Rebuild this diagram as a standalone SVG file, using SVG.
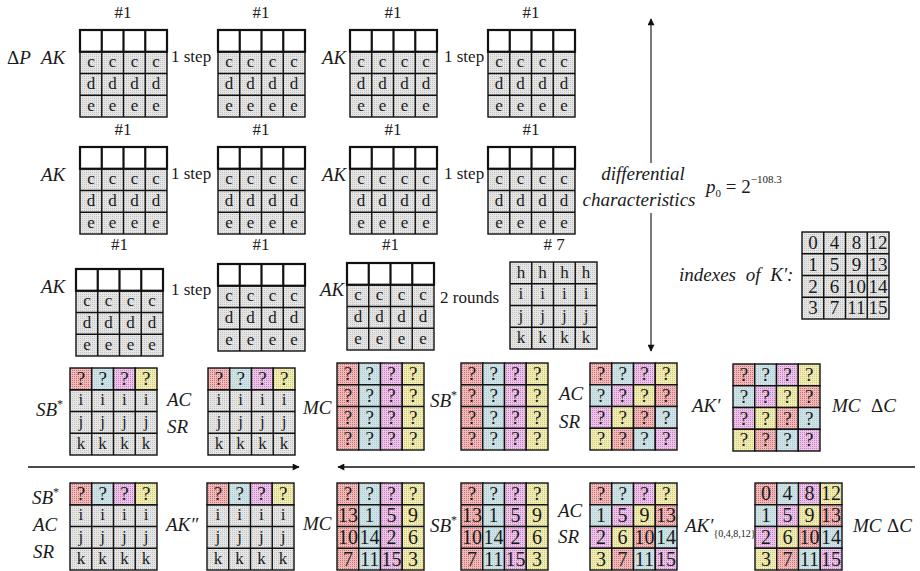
<svg xmlns="http://www.w3.org/2000/svg" width="920" height="571" viewBox="0 0 920 571">
<defs>
<pattern id="pg" width="2" height="2" patternUnits="userSpaceOnUse"><rect width="2" height="2" fill="#e6e6e6"/><rect width="1" height="1" fill="#c2c2c2"/></pattern>
<pattern id="pr" width="2" height="2" patternUnits="userSpaceOnUse"><rect width="2" height="2" fill="#edbdbd"/><rect width="1" height="1" fill="#d26e6e"/></pattern>
<pattern id="pb" width="2" height="2" patternUnits="userSpaceOnUse"><rect width="2" height="2" fill="#d0e4e7"/><rect width="1" height="1" fill="#afcdd2"/></pattern>
<pattern id="pp" width="2" height="2" patternUnits="userSpaceOnUse"><rect width="2" height="2" fill="#ebc6e8"/><rect width="1" height="1" fill="#c880c2"/></pattern>
<pattern id="py" width="2" height="2" patternUnits="userSpaceOnUse"><rect width="2" height="2" fill="#f0edbd"/><rect width="1" height="1" fill="#d6cc6a"/></pattern>
<marker id="ah" viewBox="0 0 10 10" refX="9" refY="5" markerWidth="8" markerHeight="7" markerUnits="userSpaceOnUse" orient="auto-start-reverse"><path d="M0 0L10 5L0 10z" fill="#111"/></marker>
</defs>
<style>
.g{fill:url(#pg);stroke:#111;stroke-width:1.4}
.r{fill:url(#pr);stroke:#111;stroke-width:1.4}
.b{fill:url(#pb);stroke:#111;stroke-width:1.4}
.p{fill:url(#pp);stroke:#111;stroke-width:1.4}
.y{fill:url(#py);stroke:#111;stroke-width:1.4}
.gl{fill:none;stroke:#111;stroke-width:1.4}
.wt{fill:#fff;stroke:#111;stroke-width:2.2}
.wl{fill:none;stroke:#111;stroke-width:2.2}
.t{font-family:"Liberation Serif",serif;font-size:17px;text-anchor:middle;fill:#1a1a1a}
.q{font-size:19px}
.n{font-size:20px}
.l{font-family:"Liberation Serif",serif;font-size:19px;font-style:italic;fill:#1a1a1a}
.u{font-family:"Liberation Serif",serif;font-size:17px;fill:#1a1a1a}
.h{font-family:"Liberation Serif",serif;font-size:17px;text-anchor:middle;fill:#1a1a1a}
.ar{fill:none;stroke:#111;stroke-width:1.5}
.va{fill:none;stroke:#444;stroke-width:1.4}
.up{font-style:normal}
</style>

<g id="connectors">
<path class="va" d="M651 19V163" marker-start="url(#ah)"/>
<path class="va" d="M651 213V351" marker-end="url(#ah)"/>
<path class="ar" d="M28 467H299" marker-end="url(#ah)"/>
<path class="ar" d="M915 467H338" marker-end="url(#ah)"/>
</g>

<g id="labels">
<text class="l" x="7" y="64"><tspan class="up">Δ</tspan>P</text>
<text class="l" x="41" y="64">AK</text>
<text class="u" x="171" y="62">1 step</text>
<text class="l" x="322" y="64">AK</text>
<text class="u" x="444" y="62">1 step</text>
<text class="h" x="123" y="18">#1</text>
<text class="h" x="261" y="18">#1</text>
<text class="h" x="393" y="18">#1</text>
<text class="h" x="531" y="18">#1</text>

<text class="l" x="41" y="181">AK</text>
<text class="u" x="171" y="179">1 step</text>
<text class="l" x="322" y="181">AK</text>
<text class="u" x="444" y="179">1 step</text>
<text class="h" x="123" y="135">#1</text>
<text class="h" x="261" y="135">#1</text>
<text class="h" x="393" y="135">#1</text>
<text class="h" x="531" y="135">#1</text>

<text class="l" x="41" y="293">AK</text>
<text class="u" x="171" y="295">1 step</text>
<text class="l" x="320" y="296">AK</text>
<text class="u" x="440" y="303">2 rounds</text>
<text class="h" x="119.5" y="250">#1</text>
<text class="h" x="261" y="250">#1</text>
<text class="h" x="390.5" y="250">#1</text>
<text class="h" x="554" y="250"># 7</text>

<text class="l" x="643" y="180" text-anchor="middle">differential</text>
<text class="l" x="639" y="206" text-anchor="middle">characteristics</text>
<text class="l" x="706" y="193">p<tspan class="up" font-size="11" dy="4">0</tspan><tspan class="up" dy="-4"> = 2</tspan><tspan class="up" font-size="11" dy="-10">−108.3</tspan></text>
<text class="l" x="679" y="281" word-spacing="5">indexes of K′:</text>

<text class="l" x="36" y="416">SB<tspan class="up" font-size="12" dy="-8">*</tspan></text>
<text class="l" x="167" y="406">AC</text>
<text class="l" x="167" y="433">SR</text>
<text class="l" x="303" y="414">MC</text>
<text class="l" x="430" y="407">SB<tspan class="up" font-size="12" dy="-8">*</tspan></text>
<text class="l" x="559" y="400">AC</text>
<text class="l" x="559" y="428">SR</text>
<text class="l" x="692" y="412">AK′</text>
<text class="l" x="832" y="412">MC</text>
<text class="l" x="871" y="412"><tspan class="up">Δ</tspan>C</text>

<text class="l" x="32" y="504">SB<tspan class="up" font-size="12" dy="-8">*</tspan></text>
<text class="l" x="33" y="531">AC</text>
<text class="l" x="33" y="558">SR</text>
<text class="l" x="166" y="531">AK″</text>
<text class="l" x="303" y="530">MC</text>
<text class="l" x="430" y="532">SB<tspan class="up" font-size="12" dy="-8">*</tspan></text>
<text class="l" x="558" y="517">AC</text>
<text class="l" x="558" y="543">SR</text>
<text class="l" x="685" y="532">AK′<tspan class="up" font-size="10" dy="5">{0,4,8,12}</tspan></text>
<text class="l" x="853" y="532">MC</text>
<text class="l" x="887" y="532"><tspan class="up">Δ</tspan>C</text>
</g>

<!-- Row 1 -->
<g id="r1g1">
<rect class="g" x="80" y="51.75" width="87" height="65.25"/>
<path class="gl" d="M101.75 51.75V117M123.5 51.75V117M145.25 51.75V117M80 73.5H167M80 95.25H167"/>
<rect class="wt" x="80" y="30" width="87" height="21.75"/>
<path class="wl" d="M101.75 30V51.75M123.5 30V51.75M145.25 30V51.75"/>
<text class="t" x="90.9" y="67.25">c</text><text class="t" x="112.6" y="67.25">c</text><text class="t" x="134.4" y="67.25">c</text><text class="t" x="156.1" y="67.25">c</text>
<text class="t" x="90.9" y="89">d</text><text class="t" x="112.6" y="89">d</text><text class="t" x="134.4" y="89">d</text><text class="t" x="156.1" y="89">d</text>
<text class="t" x="90.9" y="110.75">e</text><text class="t" x="112.6" y="110.75">e</text><text class="t" x="134.4" y="110.75">e</text><text class="t" x="156.1" y="110.75">e</text>
</g>
<g id="r1g2">
<rect class="g" x="218" y="51.75" width="87" height="65.25"/>
<path class="gl" d="M239.75 51.75V117M261.5 51.75V117M283.25 51.75V117M218 73.5H305M218 95.25H305"/>
<rect class="wt" x="218" y="30" width="87" height="21.75"/>
<path class="wl" d="M239.75 30V51.75M261.5 30V51.75M283.25 30V51.75"/>
<text class="t" x="228.9" y="67.25">c</text><text class="t" x="250.6" y="67.25">c</text><text class="t" x="272.4" y="67.25">c</text><text class="t" x="294.1" y="67.25">c</text>
<text class="t" x="228.9" y="89">d</text><text class="t" x="250.6" y="89">d</text><text class="t" x="272.4" y="89">d</text><text class="t" x="294.1" y="89">d</text>
<text class="t" x="228.9" y="110.75">e</text><text class="t" x="250.6" y="110.75">e</text><text class="t" x="272.4" y="110.75">e</text><text class="t" x="294.1" y="110.75">e</text>
</g>
<g id="r1g3">
<rect class="g" x="350" y="51.75" width="87" height="65.25"/>
<path class="gl" d="M371.75 51.75V117M393.5 51.75V117M415.25 51.75V117M350 73.5H437M350 95.25H437"/>
<rect class="wt" x="350" y="30" width="87" height="21.75"/>
<path class="wl" d="M371.75 30V51.75M393.5 30V51.75M415.25 30V51.75"/>
<text class="t" x="360.9" y="67.25">c</text><text class="t" x="382.6" y="67.25">c</text><text class="t" x="404.4" y="67.25">c</text><text class="t" x="426.1" y="67.25">c</text>
<text class="t" x="360.9" y="89">d</text><text class="t" x="382.6" y="89">d</text><text class="t" x="404.4" y="89">d</text><text class="t" x="426.1" y="89">d</text>
<text class="t" x="360.9" y="110.75">e</text><text class="t" x="382.6" y="110.75">e</text><text class="t" x="404.4" y="110.75">e</text><text class="t" x="426.1" y="110.75">e</text>
</g>
<g id="r1g4">
<rect class="g" x="488" y="51.75" width="87" height="65.25"/>
<path class="gl" d="M509.75 51.75V117M531.5 51.75V117M553.25 51.75V117M488 73.5H575M488 95.25H575"/>
<rect class="wt" x="488" y="30" width="87" height="21.75"/>
<path class="wl" d="M509.75 30V51.75M531.5 30V51.75M553.25 30V51.75"/>
<text class="t" x="498.9" y="67.25">c</text><text class="t" x="520.6" y="67.25">c</text><text class="t" x="542.4" y="67.25">c</text><text class="t" x="564.1" y="67.25">c</text>
<text class="t" x="498.9" y="89">d</text><text class="t" x="520.6" y="89">d</text><text class="t" x="542.4" y="89">d</text><text class="t" x="564.1" y="89">d</text>
<text class="t" x="498.9" y="110.75">e</text><text class="t" x="520.6" y="110.75">e</text><text class="t" x="542.4" y="110.75">e</text><text class="t" x="564.1" y="110.75">e</text>
</g>

<!-- Row 2 -->
<g id="r2g1">
<rect class="g" x="80" y="168.75" width="87" height="65.25"/>
<path class="gl" d="M101.75 168.75V234M123.5 168.75V234M145.25 168.75V234M80 190.5H167M80 212.25H167"/>
<rect class="wt" x="80" y="147" width="87" height="21.75"/>
<path class="wl" d="M101.75 147V168.75M123.5 147V168.75M145.25 147V168.75"/>
<text class="t" x="90.9" y="184.25">c</text><text class="t" x="112.6" y="184.25">c</text><text class="t" x="134.4" y="184.25">c</text><text class="t" x="156.1" y="184.25">c</text>
<text class="t" x="90.9" y="206">d</text><text class="t" x="112.6" y="206">d</text><text class="t" x="134.4" y="206">d</text><text class="t" x="156.1" y="206">d</text>
<text class="t" x="90.9" y="227.75">e</text><text class="t" x="112.6" y="227.75">e</text><text class="t" x="134.4" y="227.75">e</text><text class="t" x="156.1" y="227.75">e</text>
</g>
<g id="r2g2">
<rect class="g" x="218" y="168.75" width="87" height="65.25"/>
<path class="gl" d="M239.75 168.75V234M261.5 168.75V234M283.25 168.75V234M218 190.5H305M218 212.25H305"/>
<rect class="wt" x="218" y="147" width="87" height="21.75"/>
<path class="wl" d="M239.75 147V168.75M261.5 147V168.75M283.25 147V168.75"/>
<text class="t" x="228.9" y="184.25">c</text><text class="t" x="250.6" y="184.25">c</text><text class="t" x="272.4" y="184.25">c</text><text class="t" x="294.1" y="184.25">c</text>
<text class="t" x="228.9" y="206">d</text><text class="t" x="250.6" y="206">d</text><text class="t" x="272.4" y="206">d</text><text class="t" x="294.1" y="206">d</text>
<text class="t" x="228.9" y="227.75">e</text><text class="t" x="250.6" y="227.75">e</text><text class="t" x="272.4" y="227.75">e</text><text class="t" x="294.1" y="227.75">e</text>
</g>
<g id="r2g3">
<rect class="g" x="350" y="168.75" width="87" height="65.25"/>
<path class="gl" d="M371.75 168.75V234M393.5 168.75V234M415.25 168.75V234M350 190.5H437M350 212.25H437"/>
<rect class="wt" x="350" y="147" width="87" height="21.75"/>
<path class="wl" d="M371.75 147V168.75M393.5 147V168.75M415.25 147V168.75"/>
<text class="t" x="360.9" y="184.25">c</text><text class="t" x="382.6" y="184.25">c</text><text class="t" x="404.4" y="184.25">c</text><text class="t" x="426.1" y="184.25">c</text>
<text class="t" x="360.9" y="206">d</text><text class="t" x="382.6" y="206">d</text><text class="t" x="404.4" y="206">d</text><text class="t" x="426.1" y="206">d</text>
<text class="t" x="360.9" y="227.75">e</text><text class="t" x="382.6" y="227.75">e</text><text class="t" x="404.4" y="227.75">e</text><text class="t" x="426.1" y="227.75">e</text>
</g>
<g id="r2g4">
<rect class="g" x="488" y="168.75" width="87" height="65.25"/>
<path class="gl" d="M509.75 168.75V234M531.5 168.75V234M553.25 168.75V234M488 190.5H575M488 212.25H575"/>
<rect class="wt" x="488" y="147" width="87" height="21.75"/>
<path class="wl" d="M509.75 147V168.75M531.5 147V168.75M553.25 147V168.75"/>
<text class="t" x="498.9" y="184.25">c</text><text class="t" x="520.6" y="184.25">c</text><text class="t" x="542.4" y="184.25">c</text><text class="t" x="564.1" y="184.25">c</text>
<text class="t" x="498.9" y="206">d</text><text class="t" x="520.6" y="206">d</text><text class="t" x="542.4" y="206">d</text><text class="t" x="564.1" y="206">d</text>
<text class="t" x="498.9" y="227.75">e</text><text class="t" x="520.6" y="227.75">e</text><text class="t" x="542.4" y="227.75">e</text><text class="t" x="564.1" y="227.75">e</text>
</g>

<!-- Row 3 -->
<g id="r3g1">
<rect class="g" x="76" y="290.75" width="87" height="65.25"/>
<path class="gl" d="M97.75 290.75V356M119.5 290.75V356M141.25 290.75V356M76 312.5H163M76 334.25H163"/>
<rect class="wt" x="76" y="269" width="87" height="21.75"/>
<path class="wl" d="M97.75 269V290.75M119.5 269V290.75M141.25 269V290.75"/>
<text class="t" x="86.9" y="306.25">c</text><text class="t" x="108.6" y="306.25">c</text><text class="t" x="130.4" y="306.25">c</text><text class="t" x="152.1" y="306.25">c</text>
<text class="t" x="86.9" y="328">d</text><text class="t" x="108.6" y="328">d</text><text class="t" x="130.4" y="328">d</text><text class="t" x="152.1" y="328">d</text>
<text class="t" x="86.9" y="349.75">e</text><text class="t" x="108.6" y="349.75">e</text><text class="t" x="130.4" y="349.75">e</text><text class="t" x="152.1" y="349.75">e</text>
</g>
<g id="r3g2">
<rect class="g" x="218" y="285.75" width="87" height="65.25"/>
<path class="gl" d="M239.75 285.75V351M261.5 285.75V351M283.25 285.75V351M218 307.5H305M218 329.25H305"/>
<rect class="wt" x="218" y="264" width="87" height="21.75"/>
<path class="wl" d="M239.75 264V285.75M261.5 264V285.75M283.25 264V285.75"/>
<text class="t" x="228.9" y="301.25">c</text><text class="t" x="250.6" y="301.25">c</text><text class="t" x="272.4" y="301.25">c</text><text class="t" x="294.1" y="301.25">c</text>
<text class="t" x="228.9" y="323">d</text><text class="t" x="250.6" y="323">d</text><text class="t" x="272.4" y="323">d</text><text class="t" x="294.1" y="323">d</text>
<text class="t" x="228.9" y="344.75">e</text><text class="t" x="250.6" y="344.75">e</text><text class="t" x="272.4" y="344.75">e</text><text class="t" x="294.1" y="344.75">e</text>
</g>
<g id="r3g3">
<rect class="g" x="347" y="284.75" width="87" height="65.25"/>
<path class="gl" d="M368.75 284.75V350M390.5 284.75V350M412.25 284.75V350M347 306.5H434M347 328.25H434"/>
<rect class="wt" x="347" y="263" width="87" height="21.75"/>
<path class="wl" d="M368.75 263V284.75M390.5 263V284.75M412.25 263V284.75"/>
<text class="t" x="357.9" y="300.25">c</text><text class="t" x="379.6" y="300.25">c</text><text class="t" x="401.4" y="300.25">c</text><text class="t" x="423.1" y="300.25">c</text>
<text class="t" x="357.9" y="322">d</text><text class="t" x="379.6" y="322">d</text><text class="t" x="401.4" y="322">d</text><text class="t" x="423.1" y="322">d</text>
<text class="t" x="357.9" y="343.75">e</text><text class="t" x="379.6" y="343.75">e</text><text class="t" x="401.4" y="343.75">e</text><text class="t" x="423.1" y="343.75">e</text>
</g>
<g id="r3g7">
<rect class="g" x="510" y="262" width="87" height="87"/>
<path class="gl" d="M531.75 262V349M553.5 262V349M575.25 262V349M510 283.75H597M510 305.5H597M510 327.25H597"/>
<text class="t" x="520.9" y="277.5">h</text><text class="t" x="542.6" y="277.5">h</text><text class="t" x="564.4" y="277.5">h</text><text class="t" x="586.1" y="277.5">h</text>
<text class="t" x="520.9" y="299.25">i</text><text class="t" x="542.6" y="299.25">i</text><text class="t" x="564.4" y="299.25">i</text><text class="t" x="586.1" y="299.25">i</text>
<text class="t" x="520.9" y="321">j</text><text class="t" x="542.6" y="321">j</text><text class="t" x="564.4" y="321">j</text><text class="t" x="586.1" y="321">j</text>
<text class="t" x="520.9" y="342.75">k</text><text class="t" x="542.6" y="342.75">k</text><text class="t" x="564.4" y="342.75">k</text><text class="t" x="586.1" y="342.75">k</text>
</g>

<!-- Index grid -->
<g id="index">
<rect class="g" x="802" y="232" width="87" height="87"/>
<path class="gl" d="M823.75 232V319M845.5 232V319M867.25 232V319M802 253.75H889M802 275.5H889M802 297.25H889"/>
<text class="t q" x="812.9" y="249">0</text><text class="t q" x="834.6" y="249">4</text><text class="t q" x="856.4" y="249">8</text><text class="t q" x="878.1" y="249">12</text>
<text class="t q" x="812.9" y="270.75">1</text><text class="t q" x="834.6" y="270.75">5</text><text class="t q" x="856.4" y="270.75">9</text><text class="t q" x="878.1" y="270.75">13</text>
<text class="t q" x="812.9" y="292.5">2</text><text class="t q" x="834.6" y="292.5">6</text><text class="t q" x="856.4" y="292.5">10</text><text class="t q" x="878.1" y="292.5">14</text>
<text class="t q" x="812.9" y="314.25">3</text><text class="t q" x="834.6" y="314.25">7</text><text class="t q" x="856.4" y="314.25">11</text><text class="t q" x="878.1" y="314.25">15</text>
</g>

<!-- Row 4 -->
<g id="r4g1">
<rect class="g" x="70" y="389.75" width="87" height="65.25"/>
<path class="gl" d="M91.75 389.75V455M113.5 389.75V455M135.25 389.75V455M70 411.5H157M70 433.25H157"/>
<rect class="r" x="70" y="368" width="21.75" height="21.75"/><rect class="b" x="91.75" y="368" width="21.75" height="21.75"/><rect class="p" x="113.5" y="368" width="21.75" height="21.75"/><rect class="y" x="135.25" y="368" width="21.75" height="21.75"/>
<text class="t q" x="80.9" y="385">?</text><text class="t q" x="102.6" y="385">?</text><text class="t q" x="124.4" y="385">?</text><text class="t q" x="146.1" y="385">?</text>
<text class="t" x="80.9" y="405.25">i</text><text class="t" x="102.6" y="405.25">i</text><text class="t" x="124.4" y="405.25">i</text><text class="t" x="146.1" y="405.25">i</text>
<text class="t" x="80.9" y="427">j</text><text class="t" x="102.6" y="427">j</text><text class="t" x="124.4" y="427">j</text><text class="t" x="146.1" y="427">j</text>
<text class="t" x="80.9" y="448.75">k</text><text class="t" x="102.6" y="448.75">k</text><text class="t" x="124.4" y="448.75">k</text><text class="t" x="146.1" y="448.75">k</text>
</g>
<g id="r4g2">
<rect class="g" x="208" y="389.75" width="87" height="65.25"/>
<path class="gl" d="M229.75 389.75V455M251.5 389.75V455M273.25 389.75V455M208 411.5H295M208 433.25H295"/>
<rect class="r" x="208" y="368" width="21.75" height="21.75"/><rect class="b" x="229.75" y="368" width="21.75" height="21.75"/><rect class="p" x="251.5" y="368" width="21.75" height="21.75"/><rect class="y" x="273.25" y="368" width="21.75" height="21.75"/>
<text class="t q" x="218.9" y="385">?</text><text class="t q" x="240.6" y="385">?</text><text class="t q" x="262.4" y="385">?</text><text class="t q" x="284.1" y="385">?</text>
<text class="t" x="218.9" y="405.25">i</text><text class="t" x="240.6" y="405.25">i</text><text class="t" x="262.4" y="405.25">i</text><text class="t" x="284.1" y="405.25">i</text>
<text class="t" x="218.9" y="427">j</text><text class="t" x="240.6" y="427">j</text><text class="t" x="262.4" y="427">j</text><text class="t" x="284.1" y="427">j</text>
<text class="t" x="218.9" y="448.75">k</text><text class="t" x="240.6" y="448.75">k</text><text class="t" x="262.4" y="448.75">k</text><text class="t" x="284.1" y="448.75">k</text>
</g>
<g id="r4g3">
<rect class="r" x="337" y="363" width="21.75" height="87"/><rect class="b" x="358.75" y="363" width="21.75" height="87"/><rect class="p" x="380.5" y="363" width="21.75" height="87"/><rect class="y" x="402.25" y="363" width="21.75" height="87"/>
<path class="gl" d="M337 384.75H424M337 406.5H424M337 428.25H424"/>
<text class="t q" x="347.9" y="380">?</text><text class="t q" x="369.6" y="380">?</text><text class="t q" x="391.4" y="380">?</text><text class="t q" x="413.1" y="380">?</text>
<text class="t q" x="347.9" y="401.75">?</text><text class="t q" x="369.6" y="401.75">?</text><text class="t q" x="391.4" y="401.75">?</text><text class="t q" x="413.1" y="401.75">?</text>
<text class="t q" x="347.9" y="423.5">?</text><text class="t q" x="369.6" y="423.5">?</text><text class="t q" x="391.4" y="423.5">?</text><text class="t q" x="413.1" y="423.5">?</text>
<text class="t q" x="347.9" y="445.25">?</text><text class="t q" x="369.6" y="445.25">?</text><text class="t q" x="391.4" y="445.25">?</text><text class="t q" x="413.1" y="445.25">?</text>
</g>
<g id="r4g4">
<rect class="r" x="461" y="363" width="21.75" height="87"/><rect class="b" x="482.75" y="363" width="21.75" height="87"/><rect class="p" x="504.5" y="363" width="21.75" height="87"/><rect class="y" x="526.25" y="363" width="21.75" height="87"/>
<path class="gl" d="M461 384.75H548M461 406.5H548M461 428.25H548"/>
<text class="t q" x="471.9" y="380">?</text><text class="t q" x="493.6" y="380">?</text><text class="t q" x="515.4" y="380">?</text><text class="t q" x="537.1" y="380">?</text>
<text class="t q" x="471.9" y="401.75">?</text><text class="t q" x="493.6" y="401.75">?</text><text class="t q" x="515.4" y="401.75">?</text><text class="t q" x="537.1" y="401.75">?</text>
<text class="t q" x="471.9" y="423.5">?</text><text class="t q" x="493.6" y="423.5">?</text><text class="t q" x="515.4" y="423.5">?</text><text class="t q" x="537.1" y="423.5">?</text>
<text class="t q" x="471.9" y="445.25">?</text><text class="t q" x="493.6" y="445.25">?</text><text class="t q" x="515.4" y="445.25">?</text><text class="t q" x="537.1" y="445.25">?</text>
</g>
<g id="r4g5">
<rect class="r" x="590" y="363" width="21.75" height="21.75"/><rect class="b" x="611.75" y="363" width="21.75" height="21.75"/><rect class="p" x="633.5" y="363" width="21.75" height="21.75"/><rect class="y" x="655.25" y="363" width="21.75" height="21.75"/>
<rect class="b" x="590" y="384.75" width="21.75" height="21.75"/><rect class="p" x="611.75" y="384.75" width="21.75" height="21.75"/><rect class="y" x="633.5" y="384.75" width="21.75" height="21.75"/><rect class="r" x="655.25" y="384.75" width="21.75" height="21.75"/>
<rect class="p" x="590" y="406.5" width="21.75" height="21.75"/><rect class="y" x="611.75" y="406.5" width="21.75" height="21.75"/><rect class="r" x="633.5" y="406.5" width="21.75" height="21.75"/><rect class="b" x="655.25" y="406.5" width="21.75" height="21.75"/>
<rect class="y" x="590" y="428.25" width="21.75" height="21.75"/><rect class="r" x="611.75" y="428.25" width="21.75" height="21.75"/><rect class="b" x="633.5" y="428.25" width="21.75" height="21.75"/><rect class="p" x="655.25" y="428.25" width="21.75" height="21.75"/>
<text class="t q" x="600.9" y="380">?</text><text class="t q" x="622.6" y="380">?</text><text class="t q" x="644.4" y="380">?</text><text class="t q" x="666.1" y="380">?</text>
<text class="t q" x="600.9" y="401.75">?</text><text class="t q" x="622.6" y="401.75">?</text><text class="t q" x="644.4" y="401.75">?</text><text class="t q" x="666.1" y="401.75">?</text>
<text class="t q" x="600.9" y="423.5">?</text><text class="t q" x="622.6" y="423.5">?</text><text class="t q" x="644.4" y="423.5">?</text><text class="t q" x="666.1" y="423.5">?</text>
<text class="t q" x="600.9" y="445.25">?</text><text class="t q" x="622.6" y="445.25">?</text><text class="t q" x="644.4" y="445.25">?</text><text class="t q" x="666.1" y="445.25">?</text>
</g>
<g id="r4g6">
<rect class="r" x="733" y="364" width="21.75" height="21.75"/><rect class="b" x="754.75" y="364" width="21.75" height="21.75"/><rect class="p" x="776.5" y="364" width="21.75" height="21.75"/><rect class="y" x="798.25" y="364" width="21.75" height="21.75"/>
<rect class="b" x="733" y="385.75" width="21.75" height="21.75"/><rect class="p" x="754.75" y="385.75" width="21.75" height="21.75"/><rect class="y" x="776.5" y="385.75" width="21.75" height="21.75"/><rect class="r" x="798.25" y="385.75" width="21.75" height="21.75"/>
<rect class="p" x="733" y="407.5" width="21.75" height="21.75"/><rect class="y" x="754.75" y="407.5" width="21.75" height="21.75"/><rect class="r" x="776.5" y="407.5" width="21.75" height="21.75"/><rect class="b" x="798.25" y="407.5" width="21.75" height="21.75"/>
<rect class="y" x="733" y="429.25" width="21.75" height="21.75"/><rect class="r" x="754.75" y="429.25" width="21.75" height="21.75"/><rect class="b" x="776.5" y="429.25" width="21.75" height="21.75"/><rect class="p" x="798.25" y="429.25" width="21.75" height="21.75"/>
<text class="t q" x="743.9" y="381">?</text><text class="t q" x="765.6" y="381">?</text><text class="t q" x="787.4" y="381">?</text><text class="t q" x="809.1" y="381">?</text>
<text class="t q" x="743.9" y="402.75">?</text><text class="t q" x="765.6" y="402.75">?</text><text class="t q" x="787.4" y="402.75">?</text><text class="t q" x="809.1" y="402.75">?</text>
<text class="t q" x="743.9" y="424.5">?</text><text class="t q" x="765.6" y="424.5">?</text><text class="t q" x="787.4" y="424.5">?</text><text class="t q" x="809.1" y="424.5">?</text>
<text class="t q" x="743.9" y="446.25">?</text><text class="t q" x="765.6" y="446.25">?</text><text class="t q" x="787.4" y="446.25">?</text><text class="t q" x="809.1" y="446.25">?</text>
</g>

<!-- Row 5 -->
<g id="r5g1">
<rect class="g" x="70" y="504.75" width="87" height="65.25"/>
<path class="gl" d="M91.75 504.75V570M113.5 504.75V570M135.25 504.75V570M70 526.5H157M70 548.25H157"/>
<rect class="r" x="70" y="483" width="21.75" height="21.75"/><rect class="b" x="91.75" y="483" width="21.75" height="21.75"/><rect class="p" x="113.5" y="483" width="21.75" height="21.75"/><rect class="y" x="135.25" y="483" width="21.75" height="21.75"/>
<text class="t q" x="80.9" y="500">?</text><text class="t q" x="102.6" y="500">?</text><text class="t q" x="124.4" y="500">?</text><text class="t q" x="146.1" y="500">?</text>
<text class="t" x="80.9" y="520.25">i</text><text class="t" x="102.6" y="520.25">i</text><text class="t" x="124.4" y="520.25">i</text><text class="t" x="146.1" y="520.25">i</text>
<text class="t" x="80.9" y="542">j</text><text class="t" x="102.6" y="542">j</text><text class="t" x="124.4" y="542">j</text><text class="t" x="146.1" y="542">j</text>
<text class="t" x="80.9" y="563.75">k</text><text class="t" x="102.6" y="563.75">k</text><text class="t" x="124.4" y="563.75">k</text><text class="t" x="146.1" y="563.75">k</text>
</g>
<g id="r5g2">
<rect class="g" x="207" y="504.75" width="87" height="65.25"/>
<path class="gl" d="M228.75 504.75V570M250.5 504.75V570M272.25 504.75V570M207 526.5H294M207 548.25H294"/>
<rect class="r" x="207" y="483" width="21.75" height="21.75"/><rect class="b" x="228.75" y="483" width="21.75" height="21.75"/><rect class="p" x="250.5" y="483" width="21.75" height="21.75"/><rect class="y" x="272.25" y="483" width="21.75" height="21.75"/>
<text class="t q" x="217.9" y="500">?</text><text class="t q" x="239.6" y="500">?</text><text class="t q" x="261.4" y="500">?</text><text class="t q" x="283.1" y="500">?</text>
<text class="t" x="217.9" y="520.25">i</text><text class="t" x="239.6" y="520.25">i</text><text class="t" x="261.4" y="520.25">i</text><text class="t" x="283.1" y="520.25">i</text>
<text class="t" x="217.9" y="542">j</text><text class="t" x="239.6" y="542">j</text><text class="t" x="261.4" y="542">j</text><text class="t" x="283.1" y="542">j</text>
<text class="t" x="217.9" y="563.75">k</text><text class="t" x="239.6" y="563.75">k</text><text class="t" x="261.4" y="563.75">k</text><text class="t" x="283.1" y="563.75">k</text>
</g>
<g id="r5g3">
<rect class="r" x="337" y="483" width="21.75" height="87"/><rect class="b" x="358.75" y="483" width="21.75" height="87"/><rect class="p" x="380.5" y="483" width="21.75" height="87"/><rect class="y" x="402.25" y="483" width="21.75" height="87"/>
<path class="gl" d="M337 504.75H424M337 526.5H424M337 548.25H424"/>
<text class="t q" x="347.9" y="500">?</text><text class="t q" x="369.6" y="500">?</text><text class="t q" x="391.4" y="500">?</text><text class="t q" x="413.1" y="500">?</text>
<text class="t n" x="347.9" y="522">13</text><text class="t n" x="369.6" y="522">1</text><text class="t n" x="391.4" y="522">5</text><text class="t n" x="413.1" y="522">9</text>
<text class="t n" x="347.9" y="543.75">10</text><text class="t n" x="369.6" y="543.75">14</text><text class="t n" x="391.4" y="543.75">2</text><text class="t n" x="413.1" y="543.75">6</text>
<text class="t n" x="347.9" y="565.5">7</text><text class="t n" x="369.6" y="565.5">11</text><text class="t n" x="391.4" y="565.5">15</text><text class="t n" x="413.1" y="565.5">3</text>
</g>
<g id="r5g4">
<rect class="r" x="461" y="483" width="21.75" height="87"/><rect class="b" x="482.75" y="483" width="21.75" height="87"/><rect class="p" x="504.5" y="483" width="21.75" height="87"/><rect class="y" x="526.25" y="483" width="21.75" height="87"/>
<path class="gl" d="M461 504.75H548M461 526.5H548M461 548.25H548"/>
<text class="t q" x="471.9" y="500">?</text><text class="t q" x="493.6" y="500">?</text><text class="t q" x="515.4" y="500">?</text><text class="t q" x="537.1" y="500">?</text>
<text class="t n" x="471.9" y="522">13</text><text class="t n" x="493.6" y="522">1</text><text class="t n" x="515.4" y="522">5</text><text class="t n" x="537.1" y="522">9</text>
<text class="t n" x="471.9" y="543.75">10</text><text class="t n" x="493.6" y="543.75">14</text><text class="t n" x="515.4" y="543.75">2</text><text class="t n" x="537.1" y="543.75">6</text>
<text class="t n" x="471.9" y="565.5">7</text><text class="t n" x="493.6" y="565.5">11</text><text class="t n" x="515.4" y="565.5">15</text><text class="t n" x="537.1" y="565.5">3</text>
</g>
<g id="r5g5">
<rect class="r" x="590" y="483" width="21.75" height="21.75"/><rect class="b" x="611.75" y="483" width="21.75" height="21.75"/><rect class="p" x="633.5" y="483" width="21.75" height="21.75"/><rect class="y" x="655.25" y="483" width="21.75" height="21.75"/>
<rect class="b" x="590" y="504.75" width="21.75" height="21.75"/><rect class="p" x="611.75" y="504.75" width="21.75" height="21.75"/><rect class="y" x="633.5" y="504.75" width="21.75" height="21.75"/><rect class="r" x="655.25" y="504.75" width="21.75" height="21.75"/>
<rect class="p" x="590" y="526.5" width="21.75" height="21.75"/><rect class="y" x="611.75" y="526.5" width="21.75" height="21.75"/><rect class="r" x="633.5" y="526.5" width="21.75" height="21.75"/><rect class="b" x="655.25" y="526.5" width="21.75" height="21.75"/>
<rect class="y" x="590" y="548.25" width="21.75" height="21.75"/><rect class="r" x="611.75" y="548.25" width="21.75" height="21.75"/><rect class="b" x="633.5" y="548.25" width="21.75" height="21.75"/><rect class="p" x="655.25" y="548.25" width="21.75" height="21.75"/>
<text class="t q" x="600.9" y="500">?</text><text class="t q" x="622.6" y="500">?</text><text class="t q" x="644.4" y="500">?</text><text class="t q" x="666.1" y="500">?</text>
<text class="t n" x="600.9" y="522">1</text><text class="t n" x="622.6" y="522">5</text><text class="t n" x="644.4" y="522">9</text><text class="t n" x="666.1" y="522">13</text>
<text class="t n" x="600.9" y="543.75">2</text><text class="t n" x="622.6" y="543.75">6</text><text class="t n" x="644.4" y="543.75">10</text><text class="t n" x="666.1" y="543.75">14</text>
<text class="t n" x="600.9" y="565.5">3</text><text class="t n" x="622.6" y="565.5">7</text><text class="t n" x="644.4" y="565.5">11</text><text class="t n" x="666.1" y="565.5">15</text>
</g>
<g id="r5g6">
<rect class="r" x="755" y="483" width="21.75" height="21.75"/><rect class="b" x="776.75" y="483" width="21.75" height="21.75"/><rect class="p" x="798.5" y="483" width="21.75" height="21.75"/><rect class="y" x="820.25" y="483" width="21.75" height="21.75"/>
<rect class="b" x="755" y="504.75" width="21.75" height="21.75"/><rect class="p" x="776.75" y="504.75" width="21.75" height="21.75"/><rect class="y" x="798.5" y="504.75" width="21.75" height="21.75"/><rect class="r" x="820.25" y="504.75" width="21.75" height="21.75"/>
<rect class="p" x="755" y="526.5" width="21.75" height="21.75"/><rect class="y" x="776.75" y="526.5" width="21.75" height="21.75"/><rect class="r" x="798.5" y="526.5" width="21.75" height="21.75"/><rect class="b" x="820.25" y="526.5" width="21.75" height="21.75"/>
<rect class="y" x="755" y="548.25" width="21.75" height="21.75"/><rect class="r" x="776.75" y="548.25" width="21.75" height="21.75"/><rect class="b" x="798.5" y="548.25" width="21.75" height="21.75"/><rect class="p" x="820.25" y="548.25" width="21.75" height="21.75"/>
<text class="t n" x="765.9" y="500.25">0</text><text class="t n" x="787.6" y="500.25">4</text><text class="t n" x="809.4" y="500.25">8</text><text class="t n" x="831.1" y="500.25">12</text>
<text class="t n" x="765.9" y="522">1</text><text class="t n" x="787.6" y="522">5</text><text class="t n" x="809.4" y="522">9</text><text class="t n" x="831.1" y="522">13</text>
<text class="t n" x="765.9" y="543.75">2</text><text class="t n" x="787.6" y="543.75">6</text><text class="t n" x="809.4" y="543.75">10</text><text class="t n" x="831.1" y="543.75">14</text>
<text class="t n" x="765.9" y="565.5">3</text><text class="t n" x="787.6" y="565.5">7</text><text class="t n" x="809.4" y="565.5">11</text><text class="t n" x="831.1" y="565.5">15</text>
</g>
</svg>
